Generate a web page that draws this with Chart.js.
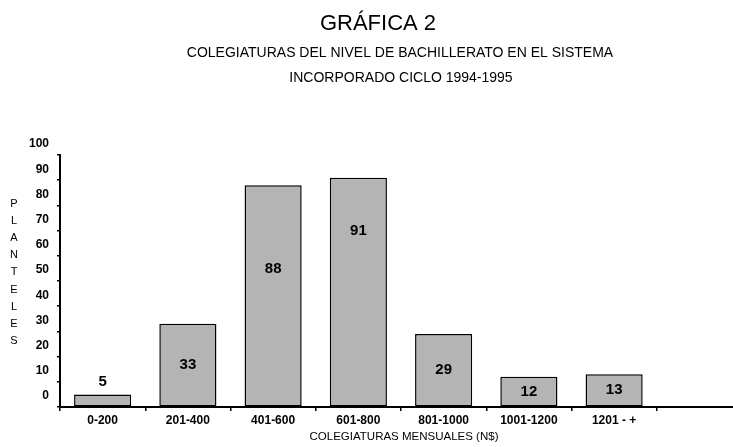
<!DOCTYPE html>
<html>
<head>
<meta charset="utf-8">
<script src="https://cdn.jsdelivr.net/npm/chart.js@4"></script>
<style>
  html, body { margin: 0; padding: 0; background: #fff; overflow: hidden; }
  #wrap { position: relative; width: 750px; height: 447px; }
</style>
</head>
<body>
<div id="wrap"><canvas id="chart"></canvas></div>
<script>
// datos de la gráfica
const categories = ["0-200", "201-400", "401-600", "601-800", "801-1000", "1001-1200", "1201 - +"];
const planteles = [5, 33, 88, 91, 29, 12, 13];
const yTicks = [0, 10, 20, 30, 40, 50, 60, 70, 80, 90, 100];

const FONT = "'Liberation Sans', Arial, sans-serif";

// textos fijos: título, subtítulo y títulos de ejes
const textPlugin = {
    id: "texts",
    afterDraw(chart) {
        const ctx = chart.ctx;
        ctx.save();
        ctx.fillStyle = "#000";
        ctx.textAlign = "center";
        ctx.textBaseline = "middle";

        ctx.font = "22px " + FONT;
        ctx.fillText("GRÁFICA 2", 378, 24);

        ctx.font = "14px " + FONT;
        ctx.fillText("COLEGIATURAS DEL NIVEL DE BACHILLERATO EN EL SISTEMA", 400, 53);
        ctx.fillText("INCORPORADO CICLO 1994-1995", 401, 78);

        ctx.font = "11px " + FONT;
        "PLANTELES".split("").forEach((ch, i) => {
            ctx.fillText(ch, 14, 204 + i * 17.1);
        });

        ctx.font = "11.5px " + FONT;
        ctx.fillText("COLEGIATURAS MENSUALES (N$)", 404, 437);
        ctx.restore();
    }
};

// etiquetas de valor dentro de las barras
const valuePlugin = {
    id: "values",
    afterDatasetsDraw(chart, args, opts) {
        const ctx = chart.ctx;
        const meta = chart.getDatasetMeta(0);
        const y = chart.scales.y;
        ctx.save();
        ctx.fillStyle = "#000";
        ctx.font = "bold 15px " + FONT;
        ctx.textAlign = "center";
        ctx.textBaseline = "middle";
        meta.data.forEach((bar, i) => {
            const v = planteles[i];
            if (v === undefined) return;
            let py;
            if (v < 10) {
                py = bar.y - 13;
            } else if (opts.labelAt[i] !== undefined) {
                py = y.getPixelForValue(opts.labelAt[i]);
            } else {
                py = (bar.y + bar.base) / 2;
            }
            ctx.fillText(String(v), bar.x, py);
        });
        ctx.restore();
    }
};

new Chart(document.getElementById("chart"), {
    type: "bar",
    data: {
        labels: categories.concat([""]),
        datasets: [{
            data: planteles,
            backgroundColor: "#b4b4b4",
            borderColor: "#000",
            borderWidth: 1.5,
            borderSkipped: false,
            categoryPercentage: 1,
            barPercentage: 0.67
        }]
    },
    options: {
        responsive: true,
        maintainAspectRatio: false,
        animation: false,
        layout: { padding: { top: 155, right: 8, left: 0, bottom: 0 } },
        plugins: {
            legend: { display: false },
            tooltip: { enabled: false },
            values: { labelAt: { 2: 55, 3: 70 } }
        },
        scales: {
            x: {
                grid: { display: true, drawOnChartArea: false, color: "#000", tickLength: 4, lineWidth: 1.5 },
                border: { display: true, color: "#000", width: 2 },
                ticks: { color: "#000", font: { family: FONT, size: 12, weight: "bold" }, padding: 2, maxRotation: 0 },
                afterFit(scale) { scale.height = 40; }
            },
            y: {
                min: 0,
                max: 100,
                afterBuildTicks(scale) { scale.ticks = yTicks.map(v => ({ value: v })); },
                grid: { display: true, drawOnChartArea: false, color: "#000", tickLength: 3, lineWidth: 1.5 },
                border: { display: true, color: "#000", width: 2 },
                ticks: { color: "#000", font: { family: FONT, size: 12, weight: "bold" }, padding: 8, labelOffset: -11 },
                afterFit(scale) { scale.width = 60; }
            }
        }
    },
    plugins: [textPlugin, valuePlugin]
});
</script>
</body>
</html>
